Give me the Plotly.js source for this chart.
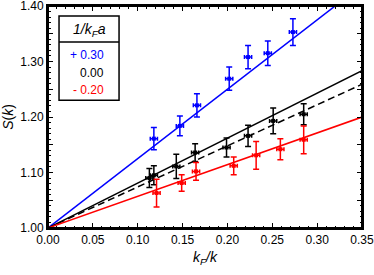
<!DOCTYPE html>
<html>
<head>
<meta charset="utf-8">
<script src="https://cdn.plot.ly/plotly-3.0.1.min.js"></script>
<style>html,body{margin:0;padding:0;background:#fff;}#chart{width:374px;height:275px;}</style>
</head>
<body>
<div id="chart"></div>
<script>
// data
const blueX = [0.118, 0.147, 0.166, 0.202, 0.223, 0.245, 0.273];
const blueY = [1.161, 1.184, 1.221, 1.269, 1.308, 1.315, 1.353];
const blueErr = [0.020, 0.018, 0.021, 0.021, 0.021, 0.022, 0.024];

const blackX = [0.113, 0.118, 0.143, 0.164, 0.199, 0.223, 0.251, 0.285];
const blackY = [1.090, 1.095, 1.111, 1.136, 1.145, 1.166, 1.193, 1.205];
const blackErr = [0.017, 0.017, 0.022, 0.016, 0.017, 0.019, 0.023, 0.019];

const redX = [0.121, 0.149, 0.165, 0.207, 0.232, 0.259, 0.285];
const redY = [1.063, 1.081, 1.102, 1.112, 1.131, 1.142, 1.159];
const redErr = [0.025, 0.015, 0.016, 0.016, 0.025, 0.019, 0.025];

const xErr = 0.004;

// fitted slopes S(k) = 1 + slope * kF/k
const fitX = [0, 0.35];
const slopeBlue = 1.25;
const slopeBlack = 0.81;
const slopeBlackDash = 0.74;
const slopeRed = 0.571;

const legendValues = ['+ 0.30', '0.00', '- 0.20'];
const legendTitle = '<i>1/k<sub>F</sub>a</i>';

const xTickVals = [0, 0.05, 0.10, 0.15, 0.20, 0.25, 0.30, 0.35];
const xTickText = ['0.00', '0.05', '0.10', '0.15', '0.20', '0.25', '0.30', '0.35'];
const yTickVals = [1.00, 1.10, 1.20, 1.30, 1.40];
const yTickText = ['1.00', '1.10', '1.20', '1.30', '1.40'];

const xRange = [0, 0.35];
const yRange = [1.0, 1.4];

const BLUE = '#0000ff', RED = '#ff0000', BLACK = '#000000';

function lineY(s) { return fitX.map(x => 1 + s * x); }

function pts(x, y, err, color) {
  return {
    x: x, y: y, type: 'scatter', mode: 'markers',
    marker: {symbol: 'square', size: 4, color: color},
    error_y: {type: 'data', array: err, visible: true, color: color, thickness: 1.5, width: 3},
    error_x: {type: 'constant', value: xErr, visible: true, color: color, thickness: 1.5, width: 2},
    showlegend: false, hoverinfo: 'skip'
  };
}
function fit(s, color, dash) {
  return {x: fitX, y: lineY(s), type: 'scatter', mode: 'lines',
    line: {color: color, width: 1.5, dash: dash || 'solid'}, showlegend: false, hoverinfo: 'skip'};
}
function dummy(xa, ya) {
  return {x: [], y: [], xaxis: xa, yaxis: ya, type: 'scatter', mode: 'markers', showlegend: false, hoverinfo: 'skip'};
}

const traces = [
  fit(slopeBlue, BLUE), fit(slopeBlack, BLACK), fit(slopeBlackDash, BLACK, '7px,4px'), fit(slopeRed, RED),
  pts(blueX, blueY, blueErr, BLUE), pts(blackX, blackY, blackErr, BLACK), pts(redX, redY, redErr, RED),
  dummy('x2', 'y2'), dummy('x', 'y3'), dummy('x', 'y4')
];

const font = {family: 'Liberation Sans, Arial, sans-serif', size: 12, color: '#000'};
const minorTicks = {dtick: 0.01, ticks: 'inside', ticklen: 2.5, tickcolor: '#000', tickwidth: 1, showgrid: false};

const layout = {
  width: 374, height: 275,
  margin: {l: 48, r: 12, t: 6, b: 46.5},
  paper_bgcolor: '#fff', plot_bgcolor: '#fff',
  font: font,
  showlegend: false,
  xaxis: {
    range: xRange, tickmode: 'array', tickvals: xTickVals, ticktext: xTickText,
    ticks: 'inside', ticklen: 5, tickwidth: 1, tickcolor: '#000',
    showline: true, linewidth: 2, linecolor: '#000', mirror: true,
    showgrid: false, zeroline: false, minor: minorTicks,
    tickfont: {size: 12}, ticklabeloverflow: 'allow',
    title: {text: '<i>k<sub>F</sub>/k</i>', font: {size: 14}, standoff: 6}
  },
  xaxis2: {
    range: xRange, overlaying: 'x', side: 'top', anchor: 'y',
    tickmode: 'linear', tick0: 0, dtick: 0.05,
    ticks: 'inside', ticklen: 5, tickwidth: 1, tickcolor: '#000',
    showticklabels: false, showline: false, showgrid: false, zeroline: false, minor: minorTicks
  },
  yaxis: {
    range: yRange, tickmode: 'array', tickvals: yTickVals, ticktext: yTickText,
    ticks: 'inside', ticklen: 5, tickwidth: 1, tickcolor: '#000',
    showline: true, linewidth: 2, linecolor: '#000', mirror: true,
    showgrid: false, zeroline: false, minor: minorTicks,
    tickfont: {size: 12}, ticklabeloverflow: 'allow',
    title: {text: '<i>S</i>(<i>k</i>)', font: {size: 14}, standoff: 4}
  },
  yaxis3: {
    range: yRange, overlaying: 'y', side: 'left', anchor: 'x',
    tickmode: 'linear', tick0: 1.0, dtick: 0.05,
    ticks: 'inside', ticklen: 5, tickwidth: 1, tickcolor: '#000',
    showticklabels: false, showline: false, showgrid: false, zeroline: false
  },
  yaxis2: {
    range: yRange, overlaying: 'y', side: 'right', anchor: 'x2',
    tickmode: 'linear', tick0: 1.0, dtick: 0.05,
    ticks: 'inside', ticklen: 5, tickwidth: 1, tickcolor: '#000',
    showticklabels: false, showline: false, showgrid: false, zeroline: false, minor: minorTicks
  },
  yaxis4: {
    range: yRange, overlaying: 'y', side: 'right', anchor: 'x',
    tickmode: 'linear', tick0: 1.0, dtick: 0.05,
    ticks: 'inside', ticklen: 5, tickwidth: 1, tickcolor: '#000',
    showticklabels: false, showline: false, showgrid: false, zeroline: false, minor: minorTicks
  },
  shapes: [
    {type: 'rect', xref: 'paper', yref: 'paper', x0: 0, x1: 1, y0: 0, y1: 1,
     line: {color: '#000', width: 2}, fillcolor: 'rgba(0,0,0,0)', layer: 'above'},
    {type: 'rect', xref: 'x', yref: 'y', x0: 0.0123, x1: 0.0792, y0: 1.230, y1: 1.382,
     line: {color: '#000', width: 1.5}, fillcolor: '#fff', layer: 'above'},
    {type: 'line', xref: 'x', yref: 'y', x0: 0.0123, x1: 0.0792, y0: 1.335, y1: 1.335,
     line: {color: '#000', width: 1.5}, layer: 'above'}
  ],
  annotations: [
    {xref: 'x', yref: 'y', x: 0.0457, y: 1.357, text: legendTitle, showarrow: false,
     xanchor: 'center', yanchor: 'middle', font: {size: 14, color: BLACK}},
    {xref: 'x', yref: 'y', x: 0.0652, y: 1.311, text: legendValues[0], showarrow: false,
     xanchor: 'right', yanchor: 'middle', font: {size: 12, color: BLUE}},
    {xref: 'x', yref: 'y', x: 0.0652, y: 1.279, text: legendValues[1], showarrow: false,
     xanchor: 'right', yanchor: 'middle', font: {size: 12, color: BLACK}},
    {xref: 'x', yref: 'y', x: 0.0652, y: 1.248, text: legendValues[2], showarrow: false,
     xanchor: 'right', yanchor: 'middle', font: {size: 12, color: RED}}
  ]
};

Plotly.newPlot('chart', traces, layout, {staticPlot: true, displayModeBar: false});
</script>
</body>
</html>
